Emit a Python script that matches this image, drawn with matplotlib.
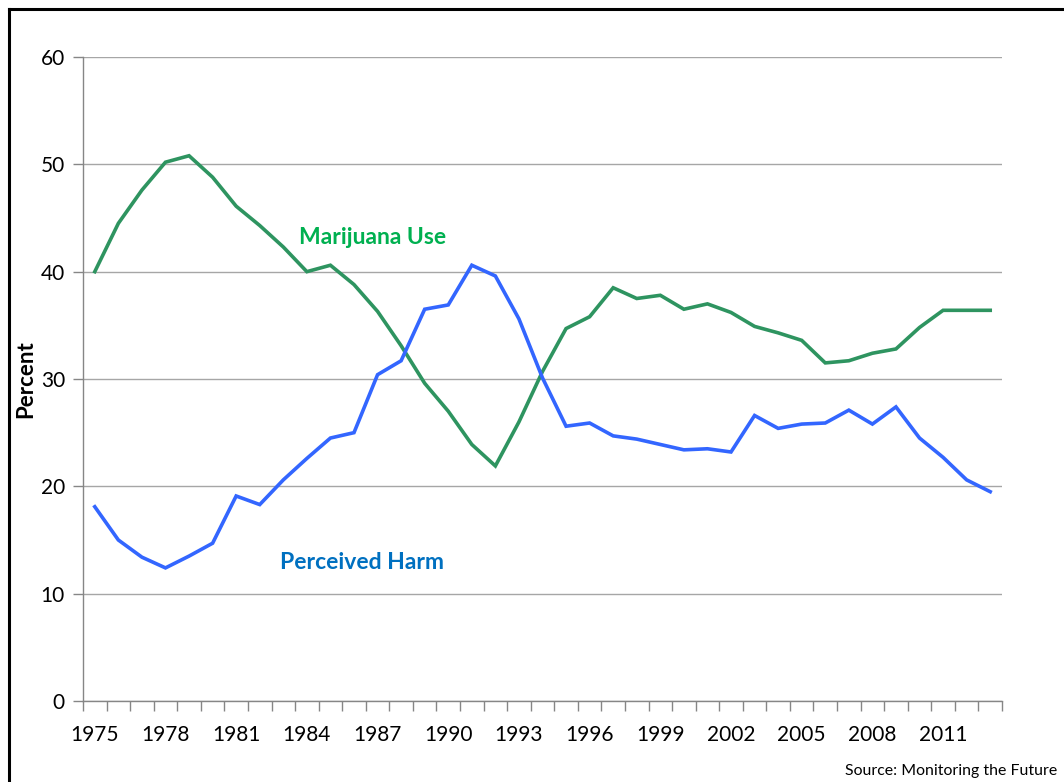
import matplotlib
matplotlib.use('Agg')
import matplotlib.pyplot as plt
from matplotlib.lines import Line2D

plt.rcParams['font.family'] = ['Lato', 'DejaVu Sans']

years = list(range(1975, 2014))
marijuana_use = [40.0, 44.5, 47.6, 50.2, 50.8, 48.8, 46.1, 44.3, 42.3, 40.0,
                 40.6, 38.8, 36.3, 33.1, 29.6, 27.0, 23.9, 21.9, 26.0, 30.7,
                 34.7, 35.8, 38.5, 37.5, 37.8, 36.5, 37.0, 36.2, 34.9, 34.3,
                 33.6, 31.5, 31.7, 32.4, 32.8, 34.8, 36.4, 36.4, 36.4]
perceived_harm = [18.1, 15.0, 13.4, 12.4, 13.5, 14.7, 19.1, 18.3, 20.6, 22.6,
                  24.5, 25.0, 30.4, 31.7, 36.5, 36.9, 40.6, 39.6, 35.6, 30.1,
                  25.6, 25.9, 24.7, 24.4, 23.9, 23.4, 23.5, 23.2, 26.6, 25.4,
                  25.8, 25.9, 27.1, 25.8, 27.4, 24.5, 22.7, 20.6, 19.5]
yticks = [0, 10, 20, 30, 40, 50, 60]

fig = plt.figure(figsize=(10.64, 7.82), dpi=100)
ax = fig.add_axes([83/1064, 1 - 701/782, (1002 - 83)/1064, (701 - 57)/782])

x = list(range(len(years)))
ax.plot(x, marijuana_use, color='#2E9460', lw=2.6, solid_joinstyle='miter')
ax.plot(x, perceived_harm, color='#3366FF', lw=2.6, solid_joinstyle='miter')

ax.set_xlim(-0.5, len(years) - 0.5)
ax.set_ylim(0, 60)
ax.set_yticks(yticks)
ax.set_yticklabels([str(v) for v in yticks], fontsize=15)
ax.yaxis.grid(True, color='#A6A6A6', lw=1)
ax.set_axisbelow(True)

label_pos = x[::3]
ax.set_xticks(label_pos)
ax.set_xticklabels([str(years[i]) for i in label_pos], fontsize=15)
ax.set_xticks([i - 0.5 for i in range(len(years) + 1)], minor=True)
ax.tick_params(axis='x', which='major', length=0, pad=17)
ax.tick_params(axis='x', which='minor', length=7, color='#868686', width=1)
ax.tick_params(axis='y', length=7, color='#868686', width=1, pad=6)

for s in ['top', 'right']:
    ax.spines[s].set_visible(False)
for s in ['left', 'bottom']:
    ax.spines[s].set_color('#868686')
    ax.spines[s].set_linewidth(1)

ax.set_ylabel('Percent', fontsize=16, fontweight='bold', labelpad=3)

ax.text(11.8, 43.2, 'Marijuana Use', color='#00B050', fontsize=16.5,
        fontweight='bold', ha='center', va='center')
ax.text(11.35, 12.95, 'Perceived Harm', color='#0070C0', fontsize=16.5,
        fontweight='bold', ha='center', va='center')

fig.text(1057/1064, 1 - 771/782, 'Source: Monitoring the Future', fontsize=11.4,
         ha='right', va='center')

# outer frame
fig.add_artist(Line2D([9/1064, 9/1064], [0, 1 - 9/782], color='black', lw=2.2,
                      transform=fig.transFigure))
fig.add_artist(Line2D([9/1064, 1], [1 - 9/782, 1 - 9/782], color='black', lw=2.2,
                      transform=fig.transFigure))

fig.savefig('out.png', dpi=100)
